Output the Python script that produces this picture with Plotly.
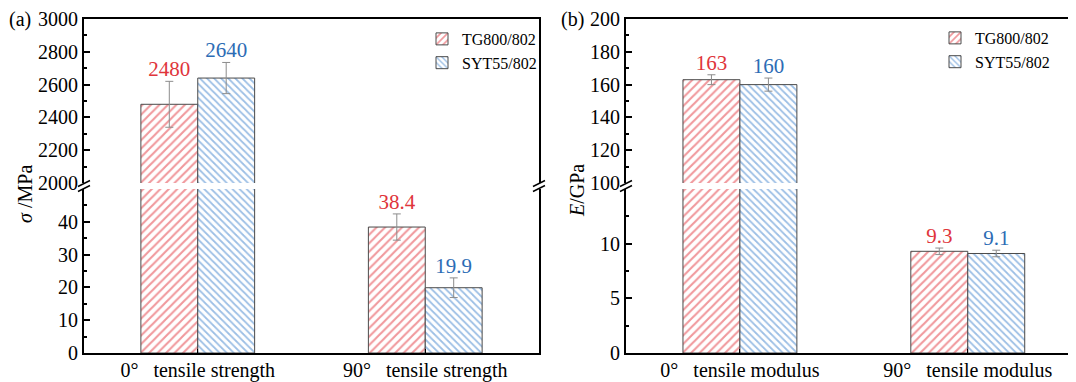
import plotly.graph_objects as go

# ---------------- data ----------------
categories_a = ["0°\u00a0\u00a0 tensile strength", "90°\u00a0\u00a0 tensile strength"]
categories_b = ["0°\u00a0\u00a0 tensile modulus", "90°\u00a0\u00a0 tensile modulus"]
series_names = ["TG800/802", "SYT55/802"]

strength_tg800 = [2480, 38.4]
strength_tg800_err = [140, 4.0]
strength_syt55 = [2640, 19.9]
strength_syt55_err = [95, 3.0]

modulus_tg800 = [163, 9.3]
modulus_tg800_err = [3.0, 0.3]
modulus_syt55 = [160, 9.1]
modulus_syt55_err = [4.0, 0.3]

ticks_a_low = [0, 10, 20, 30, 40]
ticks_a_high = [2000, 2200, 2400, 2600, 2800, 3000]
ticks_b_low = [0, 5, 10]
ticks_b_high = [100, 120, 140, 160, 180, 200]

range_a_low, range_a_high = [0, 50], [2000, 3000]
range_b_low, range_b_high = [0, 15], [100, 200]

# ---------------- style ----------------
OFF = 8                      # page body margin of the html page
W, H = 1076 - OFF, 382 - OFF  # figure size
PL, PT, PB = 84, 19, 355      # target plot edges in screenshot pixels
L, T = PL - OFF, PT - OFF
B = H - (PB - OFF)
R = 0
FONT = "Liberation Serif, Times New Roman, serif"
RED_TXT, BLUE_TXT = "#e0353b", "#2c6cb5"
RED_HATCH, BLUE_HATCH = "#e2323a", "#3a7fcb"
ERR_COL = "#8c8c8c"


def px_x(px):
    return (px - OFF - L) / (W - L - R)


def px_y(py):
    return (PB - py) / (H - T - B)


dom_left = [0, px_x(539)]
dom_right = [px_x(626), 1]
dom_low = [0, px_y(190)]
dom_high = [px_y(184), 1]

fig = go.Figure()

BAR_W = 0.25
OFFS = [-0.125, 0.125]

panels = [
    ([strength_tg800, strength_syt55], [strength_tg800_err, strength_syt55_err],
     ("x", "x2"), ("y", "y2"), (range_a_low, range_a_high), "legend"),
    ([modulus_tg800, modulus_syt55], [modulus_tg800_err, modulus_syt55_err],
     ("x3", "x4"), ("y3", "y4"), (range_b_low, range_b_high), "legend2"),
]

hatch = [dict(shape="/", fg=RED_HATCH, size=6), dict(shape="\\", fg=BLUE_HATCH, size=5)]
txtcol = [RED_TXT, BLUE_TXT]

for vals, errs, xs, ys, rngs, leg in panels:
    for s in range(2):
        xpos = [i + OFFS[s] for i in range(len(vals[s]))]
        for seg in range(2):
            fig.add_trace(go.Bar(
                x=xpos, y=vals[s], width=BAR_W,
                xaxis=xs[seg], yaxis=ys[seg],
                name=series_names[s], legend=leg,
                showlegend=(seg == 0),
                marker=dict(color="white",
                            line=dict(color="#4a4a4a", width=1),
                            pattern=dict(shape=hatch[s]["shape"], fgcolor=hatch[s]["fg"],
                                         bgcolor="white", size=hatch[s]["size"],
                                         solidity=0.35, fillmode="overlay")),
                error_y=dict(type="data", array=errs[s], color=ERR_COL,
                             thickness=1, width=4),
            ))
            lo, hi = rngs[seg]
            pts = [(x, v, e) for x, v, e in zip(xpos, vals[s], errs[s]) if lo <= v + e <= hi]
            if pts:
                fig.add_trace(go.Scatter(
                    x=[p[0] for p in pts], y=[p[1] + p[2] for p in pts],
                    xaxis=xs[seg], yaxis=ys[seg],
                    mode="text", text=[f"{p[1]:g}" for p in pts],
                    textposition="top center",
                    textfont=dict(family=FONT, size=21, color=txtcol[s]),
                    showlegend=False, hoverinfo="skip", cliponaxis=False,
                ))

tickfont = dict(family=FONT, size=20, color="black")
common_y = dict(showline=True, linewidth=2, linecolor="black", ticks="inside",
                ticklen=6, tickwidth=1.5, tickcolor="black", tickfont=tickfont,
                showgrid=False, zeroline=False, fixedrange=True)
common_xb = dict(showline=True, linewidth=2, linecolor="black",
                 ticks="inside", ticklen=4, tickcolor="black", tickfont=tickfont,
                 ticklabelstandoff=-2, showgrid=False, zeroline=False)
common_xt = dict(side="top", showline=True, linewidth=2, linecolor="black",
                 showticklabels=False, ticks="", showgrid=False, zeroline=False)

fig.update_layout(
    width=W, height=H,
    margin=dict(l=L, r=R, t=T, b=B),
    paper_bgcolor="white", plot_bgcolor="white",
    barmode="overlay",
    font=dict(family=FONT, color="black"),
    xaxis=dict(domain=dom_left, anchor="y", range=[-0.5, 1.5],
               tickvals=[0, 1], ticktext=categories_a, **common_xb),
    xaxis2=dict(domain=dom_left, anchor="y2", range=[-0.5, 1.5], **common_xt),
    yaxis=dict(domain=dom_low, anchor="x", range=range_a_low, tickvals=ticks_a_low,
               minor=dict(dtick=5, ticks="inside", ticklen=3, tickcolor="black"),
               mirror=True, **common_y),
    yaxis2=dict(domain=dom_high, anchor="x2", range=range_a_high, tickvals=ticks_a_high,
                minor=dict(dtick=100, ticks="inside", ticklen=3, tickcolor="black"),
                mirror=True, **common_y),
    xaxis3=dict(domain=dom_right, anchor="y3", range=[-0.5, 1.475],
                tickvals=[0, 1], ticktext=categories_b, **common_xb),
    xaxis4=dict(domain=dom_right, anchor="y4", range=[-0.5, 1.475], **common_xt),
    yaxis3=dict(domain=dom_low, anchor="x3", range=range_b_low, tickvals=ticks_b_low,
                minor=dict(dtick=2.5, ticks="inside", ticklen=3, tickcolor="black"),
                **common_y),
    yaxis4=dict(domain=dom_high, anchor="x4", range=range_b_high, tickvals=ticks_b_high,
                minor=dict(dtick=10, ticks="inside", ticklen=3, tickcolor="black"),
                **common_y),
    legend=dict(x=px_x(422), y=px_y(22), xanchor="left", yanchor="top",
                font=dict(family=FONT, size=16, color="black"),
                bgcolor="rgba(0,0,0,0)", itemwidth=30, tracegroupgap=0),
    legend2=dict(x=px_x(935), y=px_y(21), xanchor="left", yanchor="top",
                 font=dict(family=FONT, size=16, color="black"),
                 bgcolor="rgba(0,0,0,0)", itemwidth=30, tracegroupgap=0),
)

# axis titles and panel labels
ann = dict(xref="paper", yref="paper", showarrow=False,
           xanchor="center", yanchor="middle",
           font=dict(family=FONT, size=20, color="black"))
fig.add_annotation(x=px_x(25), y=px_y(195), text="<i>σ</i> /MPa", textangle=-90, **ann)
fig.add_annotation(x=px_x(577), y=px_y(192), text="<i>E</i>/GPa", textangle=-90, **ann)
fig.add_annotation(x=px_x(20), y=px_y(19), text="(a)", **ann)
fig.add_annotation(x=px_x(572), y=px_y(19), text="(b)", **ann)

# axis-break marks
for cx in (84, 539, 626, 1076):
    for dy in (-2.5, 2.5):
        fig.add_shape(type="line", xref="paper", yref="paper",
                      x0=px_x(cx - 6), y0=px_y(190 + dy),
                      x1=px_x(cx + 6), y1=px_y(184 + dy),
                      line=dict(color="black", width=1.5))

fig.write_html("out.html")
